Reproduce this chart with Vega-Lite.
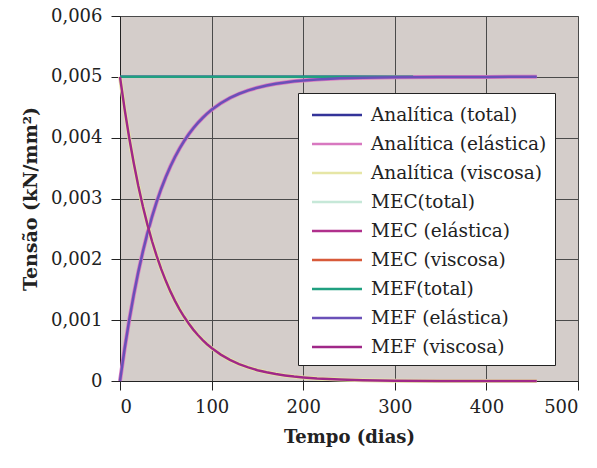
{
  "$schema": "https://vega.github.io/schema/vega-lite/v6.json",
  "width": 458,
  "height": 365,
  "autosize": {"type": "none"},
  "padding": {"left": 120, "top": 16, "right": 19, "bottom": 87},
  "background": "white",
  "config": {
    "font": "DejaVu Serif",
    "view": {"fill": "#d4cdca", "stroke": "#8a8a8a"},
    "axis": {
      "domainColor": "#222222",
      "tickColor": "#222222",
      "gridColor": "#4a4a4a",
      "gridWidth": 1,
      "labelFont": "DejaVu Serif",
      "labelFontSize": 18,
      "labelColor": "#222222",
      "titleFont": "DejaVu Serif",
      "titleFontWeight": "bold",
      "titleColor": "#222222",
      "tickSize": 9
    },
    "legend": {
      "labelFont": "DejaVu Serif",
      "labelFontSize": 18.5,
      "labelColor": "#222222",
      "labelLimit": 300
    }
  },
  "datasets": {
    "curvas": [
      {"t": 0, "el": 0, "vi": 0.005},
      {"t": 5, "el": 0.000526, "vi": 0.004474},
      {"t": 10, "el": 0.000997, "vi": 0.004003},
      {"t": 15, "el": 0.001417, "vi": 0.003583},
      {"t": 20, "el": 0.001794, "vi": 0.003206},
      {"t": 25, "el": 0.002131, "vi": 0.002869},
      {"t": 30, "el": 0.002433, "vi": 0.002567},
      {"t": 35, "el": 0.002703, "vi": 0.002297},
      {"t": 40, "el": 0.002944, "vi": 0.002056},
      {"t": 45, "el": 0.003161, "vi": 0.001839},
      {"t": 50, "el": 0.003354, "vi": 0.001646},
      {"t": 55, "el": 0.003527, "vi": 0.001473},
      {"t": 60, "el": 0.003682, "vi": 0.001318},
      {"t": 65, "el": 0.003821, "vi": 0.001179},
      {"t": 70, "el": 0.003945, "vi": 0.001055},
      {"t": 75, "el": 0.004056, "vi": 0.000944},
      {"t": 80, "el": 0.004155, "vi": 0.000845},
      {"t": 85, "el": 0.004244, "vi": 0.000756},
      {"t": 90, "el": 0.004323, "vi": 0.000677},
      {"t": 95, "el": 0.004395, "vi": 0.000605},
      {"t": 100, "el": 0.004458, "vi": 0.000542},
      {"t": 110, "el": 0.004566, "vi": 0.000434},
      {"t": 120, "el": 0.004653, "vi": 0.000347},
      {"t": 130, "el": 0.004722, "vi": 0.000278},
      {"t": 140, "el": 0.004777, "vi": 0.000223},
      {"t": 150, "el": 0.004822, "vi": 0.000178},
      {"t": 160, "el": 0.004857, "vi": 0.000143},
      {"t": 170, "el": 0.004886, "vi": 0.000114},
      {"t": 180, "el": 0.004908, "vi": 0.000092},
      {"t": 190, "el": 0.004927, "vi": 0.000073},
      {"t": 200, "el": 0.004941, "vi": 0.000059},
      {"t": 215, "el": 0.004958, "vi": 0.000042},
      {"t": 240, "el": 0.004976, "vi": 0.000024},
      {"t": 265, "el": 0.004986, "vi": 0.000014},
      {"t": 300, "el": 0.004994, "vi": 0.000006},
      {"t": 350, "el": 0.004998, "vi": 0.000002},
      {"t": 400, "el": 0.004999, "vi": 0.000001},
      {"t": 450, "el": 0.005, "vi": 0},
      {"t": 455, "el": 0.005, "vi": 0}
    ],
    "total": [
      {"t": 0, "v": 0.005},
      {"t": 320, "v": 0.005}
    ]
  },
  "layer": [
    {
      "data": {"name": "total"},
      "mark": {"type": "line", "strokeWidth": 2.5},
      "encoding": {
        "x": {
          "field": "t", "type": "quantitative",
          "scale": {"domain": [0, 500], "nice": false},
          "axis": {"values": [0, 100, 200, 300, 400, 500], "title": "Tempo (dias)", "titleFontSize": 18, "grid": true, "labelPadding": 8, "titlePadding": 12}
        },
        "y": {
          "field": "v", "type": "quantitative",
          "scale": {"domain": [0, 0.006], "nice": false},
          "axis": {
            "values": [0, 0.001, 0.002, 0.003, 0.004, 0.005, 0.006],
            "labelExpr": "datum.value == 0 ? '0' : replace(format(datum.value, '.3f'), '.', ',')",
            "title": "Tensão (kN/mm²)",
            "titleFontSize": 19,
            "grid": true,
            "labelPadding": 9,
            "titlePadding": 10
          }
        },
        "color": {
          "datum": "Analítica (total)",
          "scale": {
            "domain": ["Analítica (total)", "Analítica (elástica)", "Analítica (viscosa)", "\u00a0MEC(total)", "MEC (elástica)", "MEC (viscosa)", "\u00a0MEF(total)", "MEF (elástica)", "MEF (viscosa)"],
            "range": ["#333399", "#d878c0", "#e6e6a6", "#c6e8d8", "#b0308c", "#d85a3a", "#20a080", "#6a50b8", "#a02888"]
          },
          "legend": {
            "title": null,
            "orient": "none",
            "legendX": 178,
            "legendY": 77,
            "symbolType": "M-2,0H2",
            "symbolStrokeWidth": 2.5,
            "symbolSize": 625,
            "symbolOffset": 17,
            "fillColor": "white",
            "strokeColor": "#222222",
            "padding": 8,
            "rowPadding": 5,
            "labelOffset": 20
          }
        }
      }
    },
    {
      "data": {"name": "curvas"},
      "mark": {"type": "line", "strokeWidth": 4},
      "encoding": {
        "x": {"field": "t", "type": "quantitative"},
        "y": {"field": "el", "type": "quantitative", "title": "Tensão (kN/mm²)"},
        "color": {"datum": "Analítica (elástica)"}
      }
    },
    {
      "data": {"name": "curvas"},
      "mark": {"type": "line", "strokeWidth": 4},
      "encoding": {
        "x": {"field": "t", "type": "quantitative"},
        "y": {"field": "vi", "type": "quantitative", "title": "Tensão (kN/mm²)"},
        "color": {"datum": "Analítica (viscosa)"}
      }
    },
    {
      "data": {"name": "total"},
      "mark": {"type": "line", "strokeWidth": 2.5},
      "encoding": {
        "x": {"field": "t", "type": "quantitative"},
        "y": {"field": "v", "type": "quantitative", "title": "Tensão (kN/mm²)"},
        "color": {"datum": "\u00a0MEF(total)"}
      }
    },
    {
      "data": {"name": "curvas"},
      "mark": {"type": "line", "strokeWidth": 2.5},
      "encoding": {
        "x": {"field": "t", "type": "quantitative"},
        "y": {"field": "el", "type": "quantitative", "title": "Tensão (kN/mm²)"},
        "color": {"datum": "MEF (elástica)"}
      }
    },
    {
      "data": {"name": "curvas"},
      "mark": {"type": "line", "strokeWidth": 2.5},
      "encoding": {
        "x": {"field": "t", "type": "quantitative"},
        "y": {"field": "vi", "type": "quantitative", "title": "Tensão (kN/mm²)"},
        "color": {"datum": "MEF (viscosa)"}
      }
    }
  ]
}
